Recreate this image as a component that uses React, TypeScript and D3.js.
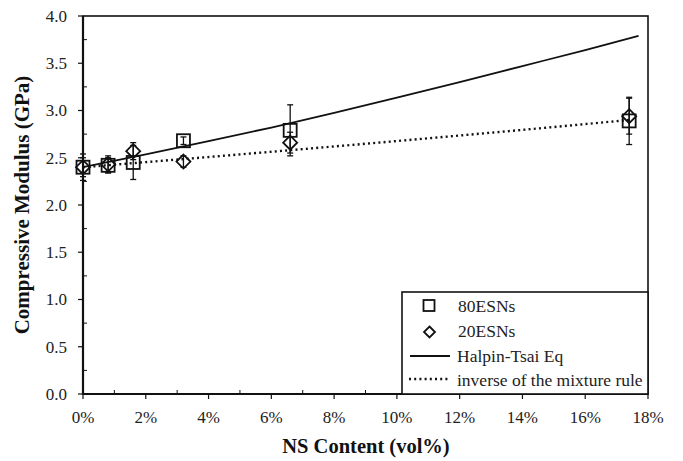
import React from "react";
import * as d3 from "d3";

const xs = [0, 0.8, 1.6, 3.2, 6.6, 17.4];
const y80 = [2.40, 2.42, 2.45, 2.68, 2.79, 2.89];
const e80 = [0.14, 0.08, 0.18, 0.04, 0.27, 0.25];
const y20 = [2.40, 2.43, 2.57, 2.46, 2.66, 2.94];
const e20 = [0.10, 0.09, 0.09, 0.06, 0.11, 0.19];

const htX = [0, 2, 4, 6, 8, 10, 12, 14, 16, 17.7];
const htY = [2.40, 2.535, 2.675, 2.82, 2.975, 3.135, 3.30, 3.47, 3.64, 3.79];

const imX = [0, 6.6, 15.8, 17.4];
const imY = [2.40, 2.58, 2.85, 2.90];

const xTicks = [0, 2, 4, 6, 8, 10, 12, 14, 16, 18];
const yTicks = [0, 0.5, 1.0, 1.5, 2.0, 2.5, 3.0, 3.5, 4.0];
const legendLabels = ["80ESNs", "20ESNs", "Halpin-Tsai Eq", "inverse of the mixture rule"];

const W = 683, H = 461;
const L = 83, R = 648, T = 16, B = 394;
const FONT = "Liberation Serif";

export default function App() {
  const x = d3.scaleLinear().domain([0, 18]).range([L, R]);
  const y = d3.scaleLinear().domain([0, 4]).range([B, T]);
  const line = d3.line<[number, number]>().x(d => x(d[0])).y(d => y(d[1])).curve(d3.curveMonotoneX);
  const htData = htX.map((v, i) => [v, htY[i]] as [number, number]);
  const imData = imX.map((v, i) => [v, imY[i]] as [number, number]);
  const xMinor = d3.range(1, 18, 2);
  const yMinor = d3.range(0.25, 4, 0.5);
  const sq = 13;
  const dm = 7;
  const ts = { fontFamily: FONT };

  const errBar = (cx: number, v: number, e: number, key: string) => (
    <g key={key} stroke="#111" strokeWidth={1.3}>
      <line x1={x(cx)} x2={x(cx)} y1={y(v - e)} y2={y(v + e)} />
      <line x1={x(cx) - 3} x2={x(cx) + 3} y1={y(v - e)} y2={y(v - e)} />
      <line x1={x(cx) - 3} x2={x(cx) + 3} y1={y(v + e)} y2={y(v + e)} />
    </g>
  );

  const diamond = (cx: number, cy: number, r: number) =>
    `M${cx},${cy - r}L${cx + r},${cy}L${cx},${cy + r}L${cx - r},${cy}Z`;

  const legendY = [312, 337, 362, 386];

  return (
    <svg width={W} height={H} style={{ position: "absolute", left: 0, top: 0, background: "#fff", fontFamily: FONT }}>
      <rect x={0} y={0} width={W} height={H} fill="#fff" />
      <rect x={L} y={T} width={R - L} height={B - T} fill="none" stroke="#111" strokeWidth={1.6} />
      {yTicks.map(t => (
        <g key={"y" + t}>
          <line x1={L - 5} x2={L} y1={y(t)} y2={y(t)} stroke="#111" strokeWidth={1.2} />
          <text x={67} y={y(t)} dy="0.35em" textAnchor="end" fontSize={17} fill="#222" style={ts}>{t.toFixed(1)}</text>
        </g>
      ))}
      {yMinor.map(t => (
        <line key={"ym" + t} x1={L} x2={L + 4} y1={y(t)} y2={y(t)} stroke="#111" strokeWidth={1} />
      ))}
      {xTicks.map(t => (
        <g key={"x" + t}>
          <line x1={x(t)} x2={x(t)} y1={B} y2={B + 5} stroke="#111" strokeWidth={1.2} />
          <text x={x(t)} y={423} textAnchor="middle" fontSize={17} fill="#222" style={ts}>{t + "%"}</text>
        </g>
      ))}
      {xMinor.map(t => (
        <line key={"xm" + t} x1={x(t)} x2={x(t)} y1={B} y2={B - 4} stroke="#111" strokeWidth={1} />
      ))}
      <line x1={L} x2={L} y1={T} y2={B} stroke="#111" strokeWidth={2.2} />
      <line x1={L} x2={R} y1={B} y2={B} stroke="#111" strokeWidth={2.2} />
      <text x={366} y={453} textAnchor="middle" fontSize={20.5} fontWeight="bold" fill="#111" style={ts}>NS Content (vol%)</text>
      <text transform={`translate(29,${(T + B) / 2}) rotate(-90)`} textAnchor="middle" fontSize={21} fontWeight="bold" fill="#111" style={ts}>Compressive Modulus (GPa)</text>

      <path d={line(htData) || ""} fill="none" stroke="#111" strokeWidth={1.8} />
      <path d={line(imData) || ""} fill="none" stroke="#111" strokeWidth={2.4} strokeDasharray="2,3.2" />

      {xs.map((v, i) => errBar(v, y80[i], e80[i], "e80" + i))}
      {xs.map((v, i) => errBar(v, y20[i], e20[i], "e20" + i))}

      {xs.map((v, i) => (
        <rect key={"s" + i} x={x(v) - sq / 2} y={y(y80[i]) - sq / 2} width={sq} height={sq} fill="none" stroke="#111" strokeWidth={1.8} />
      ))}
      {xs.map((v, i) => (
        <path key={"d" + i} d={diamond(x(v), y(y20[i]), dm)} fill="none" stroke="#111" strokeWidth={1.8} />
      ))}

      <rect x={402} y={292} width={R - 402} height={B - 292} fill="#fff" stroke="#111" strokeWidth={1.6} />
      <rect x={429 - 5.5} y={305.5 - 5.5} width={11} height={11} fill="none" stroke="#111" strokeWidth={1.8} />
      <path d={diamond(429.5, 332, 5.5)} fill="none" stroke="#111" strokeWidth={1.8} />
      <line x1={410} x2={450} y1={356} y2={356} stroke="#111" strokeWidth={1.8} />
      <line x1={409} x2={449} y1={379} y2={379} stroke="#111" strokeWidth={2.4} strokeDasharray="2,3.2" />
      {legendLabels.map((s, i) => (
        <text key={s} x={i < 2 ? 458 : 457} y={legendY[i]} fontSize={17.5} fill="#222" style={ts}>{s}</text>
      ))}
    </svg>
  );
}
